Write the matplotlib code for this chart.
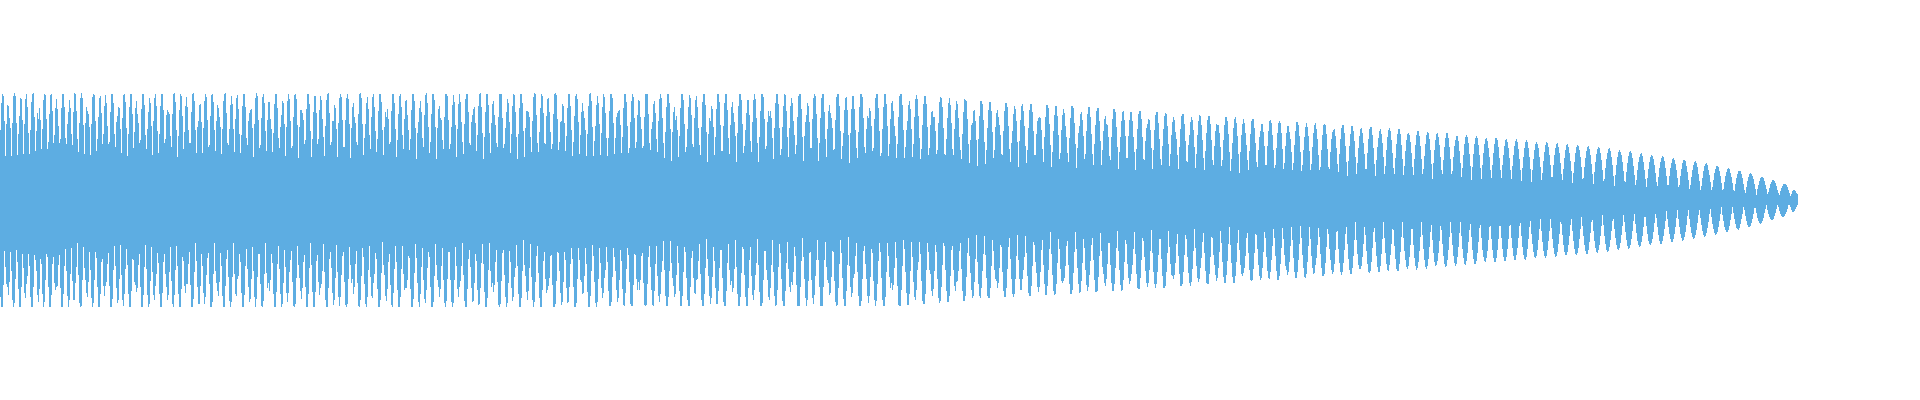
import numpy as np
import matplotlib
matplotlib.use("Agg")
import matplotlib.pyplot as plt

# waveform drawn as one min/max column per pixel
N_COLS = 1798
COLOR = "#5dade2"

# envelope key points (column index -> normalised amplitude)
ENV_POS = [0, 300, 600, 900, 1000, 1100, 1200, 1300, 1400, 1500, 1600, 1700, 1750, 1792, 1798]
ENV_PEAK = [1.0, 1.0, 1.0, 0.995, 0.915, 0.864, 0.798, 0.732, 0.667, 0.582, 0.498, 0.357, 0.254, 0.131, 0.04]
ENV_FLOOR = [0.41, 0.39, 0.37, 0.33, 0.31, 0.29, 0.26, 0.22, 0.2, 0.18, 0.14, 0.075, 0.05, 0.03, 0.02]

# beat period (columns per lobe) along the file
BEAT_POS = [0, 450, 740, 900, 1100, 1300, 1500, 1700, 1798]
BEAT_LEN = [6.0, 6.7, 7.3, 8.0, 8.4, 9.0, 10.0, 11.0, 11.5]

# extra roughness of the lobes, strong at the start, gone at the fade-out
ROUGH_POS = [0, 900, 1200, 1500, 1798]
ROUGH = [0.5, 0.45, 0.25, 0.05, 0.0]


def column_amplitudes(offset):
    cols = np.arange(N_COLS)
    peak = np.interp(cols, ENV_POS, ENV_PEAK)
    floor = np.interp(cols, ENV_POS, ENV_FLOOR)
    phase = np.cumsum(1.0 / np.interp(cols, BEAT_POS, BEAT_LEN)) + offset
    lobe = np.abs(np.sin(np.pi * phase)) ** 1.0
    rough = np.interp(cols, ROUGH_POS, ROUGH)
    second = np.abs(np.sin(np.pi * phase * 0.618 + 3 * offset)) ** 0.6
    shape = lobe * (1 - rough * (1 - second))
    shape = np.clip(shape * (1 + rough * 0.25), 0, 1)
    return cols, floor + (peak - floor) * shape


fig = plt.figure(figsize=(19.2, 4), dpi=100)
ax = fig.add_axes([0, 0, 1, 1])
cols, top = column_amplitudes(0.0)
_, bot = column_amplitudes(0.13)
ax.bar(cols, top + bot, bottom=-bot, width=1.0, color=COLOR,
       linewidth=0, antialiased=False)
ax.set_xlim(-0.5, 1919.5)
ax.set_ylim(-200 / 106.5, 200 / 106.5)
ax.axis("off")
fig.savefig("out.png", dpi=100, facecolor="white")
